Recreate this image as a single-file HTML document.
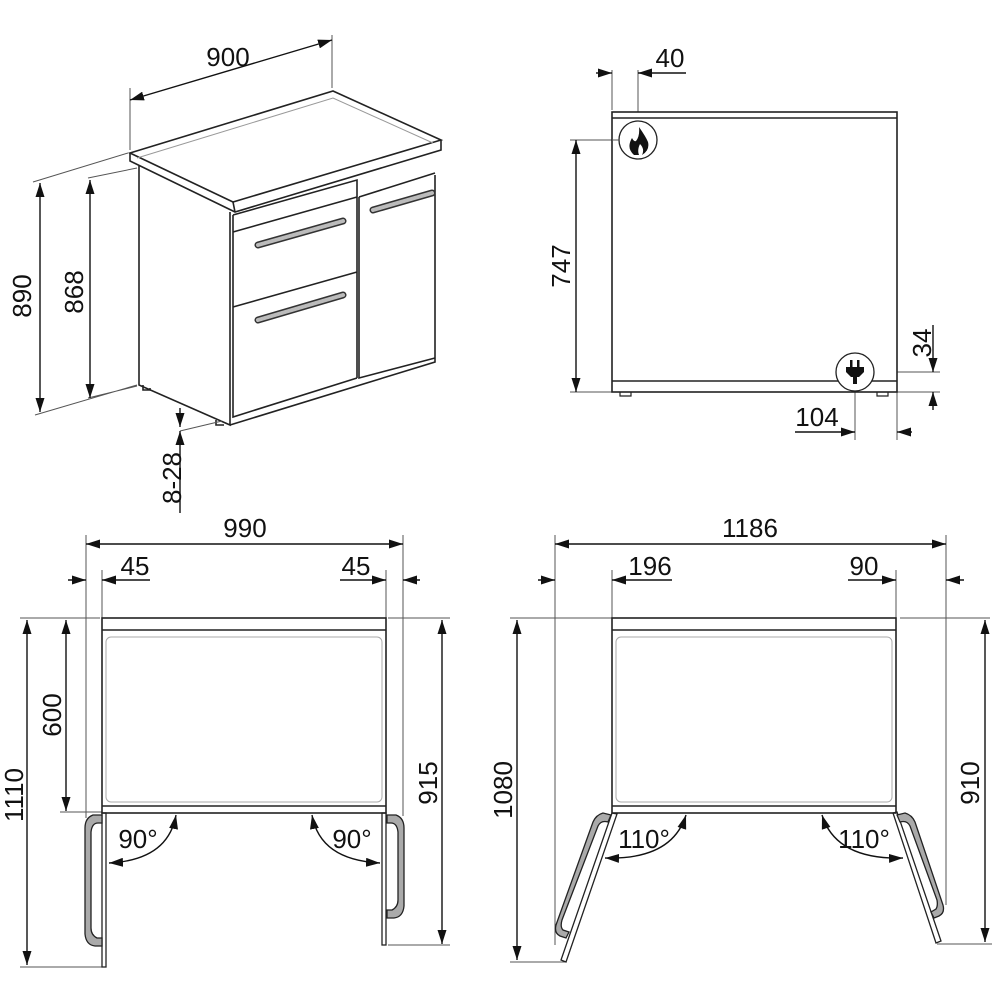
<!DOCTYPE html>
<html><head><meta charset="utf-8"><style>
html,body{margin:0;padding:0;background:#fff}
svg{display:block}
text{font-family:"Liberation Sans",Arial,sans-serif;font-size:26px;fill:#111}
</style></head><body>
<svg width="1000" height="1000" viewBox="0 0 1000 1000" xmlns="http://www.w3.org/2000/svg">
<defs>
<marker id="a" viewBox="0 0 14 9" refX="14" refY="4.5" markerWidth="14" markerHeight="9" markerUnits="userSpaceOnUse" orient="auto-start-reverse"><path d="M0,0 L14,4.5 L0,9 Z" fill="#111"/></marker>
</defs>
<g fill="none" stroke="#222" stroke-width="1.6">
<path d="M130,153 L333,91 L441,140 L233,202 Z" fill="#fff"/>
<path d="M137,158 L333,98 L433,143" stroke="#999" stroke-width="1"/>
<path d="M130,153 L130,161 L235,212 L441,150 L441,140"/>
<path d="M233,202 L235,212"/>
<path d="M139,166 L139,385 L230,425 L230,212"/>
<path d="M230,425 L435,362 L435,175"/>
<path d="M233,215 L357,180 L357,378 M233,232 L357,197 M233,307 L357,272 M233,215 L233,417 L357,378"/>
<path d="M359,197 L435,173 M359,197 L359,378 L435,358"/>
<path d="M143,385 L143,390 L150,390 L150,388 M216,420 L216,425 L224,425"/>
<path d="M258,245 L343,221 M258,320 L343,295 M373,210 L432,193" stroke="#333" stroke-width="7" stroke-linecap="round"/>
<path d="M258,245 L343,221 M258,320 L343,295 M373,210 L432,193" stroke="#bbb" stroke-width="4" stroke-linecap="round"/>
</g>
<g stroke="#555" stroke-width="1" fill="none">
<path d="M130,88 L130,150 M332,35 L332,88"/>
<path d="M33,182 L128,153 M35,415 L137,385 M88,178 L137,168 M88,398 L137,386 M180,431 L222,421"/>
<path d="M612,70 L612,110 M638,70 L638,125 M570,140 L620,140 M570,392 L612,392 M873,372 L940,372 M897,392 L940,392 M855,390 L855,440 M897,392 L897,440"/>
<path d="M86,535 L86,818 M403,535 L403,816 M102,570 L102,618 M386,570 L386,618 M20,618 L100,618 M20,967 L102,967 M60,812 L102,812 M388,618 L450,618 M388,945 L450,945"/>
<path d="M555,535 L555,945 M946,535 L946,905 M612,570 L612,618 M896,570 L896,618 M510,618 L612,618 M510,962 L565,962 M900,618 L990,618 M937,944 L992,944"/>
</g>
<g stroke="#111" stroke-width="1.4" fill="none">
<path d="M130,100 L332,40" marker-start="url(#a)" marker-end="url(#a)"/>
<path d="M40,183 L40,412" marker-start="url(#a)" marker-end="url(#a)"/>
<path d="M90,180 L90,398" marker-start="url(#a)" marker-end="url(#a)"/>
<path d="M180,408 L180,427" marker-end="url(#a)"/>
<path d="M180,513 L180,431" marker-end="url(#a)"/>
<path d="M596,73 L612,73" marker-end="url(#a)"/>
<path d="M686,73 L638,73" marker-end="url(#a)"/>
<path d="M576,140 L576,392" marker-start="url(#a)" marker-end="url(#a)"/>
<path d="M933,325 L933,372" marker-end="url(#a)"/>
<path d="M933,410 L933,392" marker-end="url(#a)"/>
<path d="M795,432 L855,432" marker-end="url(#a)"/>
<path d="M912,432 L897,432" marker-end="url(#a)"/>
<path d="M86,544 L403,544" marker-start="url(#a)" marker-end="url(#a)"/>
<path d="M68,580 L86,580" marker-end="url(#a)"/>
<path d="M150,580 L102,580" marker-end="url(#a)"/>
<path d="M340,580 L386,580" marker-end="url(#a)"/>
<path d="M420,580 L403,580" marker-end="url(#a)"/>
<path d="M27,620 L27,965" marker-start="url(#a)" marker-end="url(#a)"/>
<path d="M66,620 L66,811" marker-start="url(#a)" marker-end="url(#a)"/>
<path d="M442,620 L442,944" marker-start="url(#a)" marker-end="url(#a)"/>
<path d="M109,863 Q168,860 176,815" marker-start="url(#a)" marker-end="url(#a)"/>
<path d="M380,863 Q320,860 312,815" marker-start="url(#a)" marker-end="url(#a)"/>
<path d="M555,544 L946,544" marker-start="url(#a)" marker-end="url(#a)"/>
<path d="M538,580 L555,580" marker-end="url(#a)"/>
<path d="M672,580 L612,580" marker-end="url(#a)"/>
<path d="M848,580 L896,580" marker-end="url(#a)"/>
<path d="M964,580 L946,580" marker-end="url(#a)"/>
<path d="M517,620 L517,960" marker-start="url(#a)" marker-end="url(#a)"/>
<path d="M985,620 L985,942" marker-start="url(#a)" marker-end="url(#a)"/>
<path d="M605,858 Q672,860 686,815" marker-start="url(#a)" marker-end="url(#a)"/>
<path d="M903,858 Q836,860 822,815" marker-start="url(#a)" marker-end="url(#a)"/>
</g>
<g fill="none" stroke="#222" stroke-width="1.6">
<rect x="612" y="112" width="285" height="280" fill="#fff"/>
<path d="M612,118 L897,118 M612,381 L897,381"/>
<path d="M620,392 L620,396 L631,396 L631,392 M877,392 L877,396 L888,396 L888,392" stroke-width="1.2"/>
<circle cx="638" cy="140" r="19" fill="#fff" stroke-width="1.3"/>
<circle cx="855" cy="372" r="19" fill="#fff" stroke-width="1.3"/>
<path d="M612,140 L619,140" stroke="#555" stroke-width="1"/>
<rect x="102" y="618" width="284" height="195" fill="#fff"/>
<path d="M102,630 L386,630 M102,806 L386,806"/>
<rect x="106" y="637" width="276" height="165" rx="5" stroke="#aaa" stroke-width="1"/>
<rect x="102" y="813" width="4" height="154" stroke-width="1.3"/>
<rect x="382" y="813" width="4" height="132" stroke-width="1.3"/>
<path fill-rule="evenodd" fill="#aaa" stroke-width="1.3" d="M102,815 L93,815 Q85,818 85,828 L85,934 Q86,945 95,946 L102,946 L102,938 L97,938 Q91,935 91,928 L91,832 Q92,823 98,823 L102,823 Z"/>
<path fill-rule="evenodd" fill="#aaa" stroke-width="1.3" d="M387,815 L396,815 Q404,818 404,828 L404,906 Q403,917 394,918 L387,918 L387,910 L392,910 Q398,907 398,900 L398,832 Q397,823 391,823 L387,823 Z"/>
<rect x="612" y="618" width="284" height="195" fill="#fff"/>
<path d="M612,630 L896,630 M612,806 L896,806"/>
<rect x="616" y="637" width="276" height="165" rx="5" stroke="#aaa" stroke-width="1"/>
<path d="M612,813 L617,814 L566,962 L561,960 Z" stroke-width="1.3"/>
<path d="M893,813 L897,812 L941,941 L936,943 Z" stroke-width="1.3"/>
<path fill="#aaa" stroke-width="1.3" d="M611,815 L603,813 Q596,815 593,822 L556,925 Q554,933 560,936 L566,938 L569,932 L563,930 Q560,927 562,920 L598,826 Q601,820 608,822 Z"/>
<path fill="#aaa" stroke-width="1.3" d="M897,815 L905,813 Q912,815 915,822 L943,905 Q945,913 939,916 L934,918 L931,912 L936,909 Q938,906 937,900 L910,826 Q907,820 900,822 Z"/>
</g>
<path d="M639,127 Q646,137 648,142 Q650,150 642,155 Q645,149 640,144 Q637,150 639,155 L634,155 Q626,148 632,138 Q634,142 636,141 Q640,136 639,127 Z" fill="#111"/>
<g fill="#111"><rect x="850" y="360" width="2.5" height="7"/><rect x="857" y="360" width="2.5" height="7"/><path d="M846,367 L864,367 L864,372 L859,377 L857,377 L857,384 L853,384 L853,377 L851,377 L846,372 Z"/></g>
<text x="228" y="66" text-anchor="middle">900</text>
<text transform="translate(31,296) rotate(-90)" text-anchor="middle">890</text>
<text transform="translate(83,292) rotate(-90)" text-anchor="middle">868</text>
<text transform="translate(181,478) rotate(-90)" text-anchor="middle">8-28</text>
<text x="670" y="67" text-anchor="middle">40</text>
<text transform="translate(570,266) rotate(-90)" text-anchor="middle">747</text>
<text transform="translate(931,343) rotate(-90)" text-anchor="middle">34</text>
<text x="817" y="426" text-anchor="middle">104</text>
<text x="245" y="537" text-anchor="middle">990</text>
<text x="135" y="575" text-anchor="middle">45</text>
<text x="356" y="575" text-anchor="middle">45</text>
<text transform="translate(23,795) rotate(-90)" text-anchor="middle">1110</text>
<text transform="translate(61,715) rotate(-90)" text-anchor="middle">600</text>
<text transform="translate(437,783) rotate(-90)" text-anchor="middle">915</text>
<text x="138" y="848" text-anchor="middle">90°</text>
<text x="352" y="848" text-anchor="middle">90°</text>
<text x="750" y="537" text-anchor="middle">1186</text>
<text x="650" y="575" text-anchor="middle">196</text>
<text x="864" y="575" text-anchor="middle">90</text>
<text transform="translate(512,790) rotate(-90)" text-anchor="middle">1080</text>
<text transform="translate(979,783) rotate(-90)" text-anchor="middle">910</text>
<text x="644" y="848" text-anchor="middle">110°</text>
<text x="864" y="848" text-anchor="middle">110°</text>
</svg>
</body></html>
